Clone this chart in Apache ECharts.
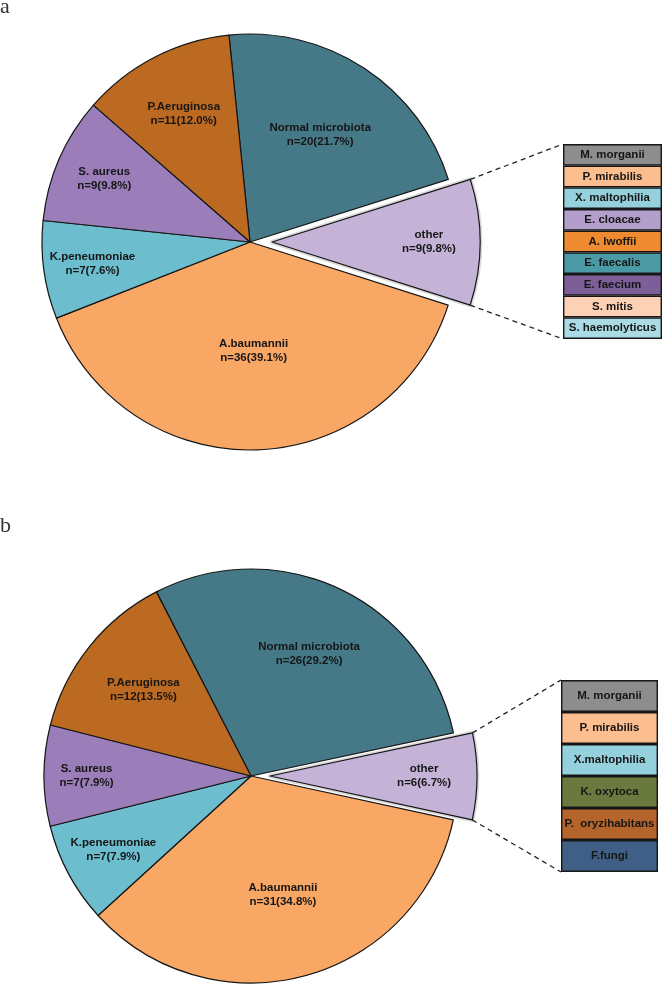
<!DOCTYPE html>
<html><head><meta charset="utf-8">
<script src="https://cdn.jsdelivr.net/npm/echarts@6/dist/echarts.min.js"></script>
<style>html,body{margin:0;padding:0;background:#fff}#c{width:670px;height:992px}</style>
</head><body><div id="c"></div>
<script>
// ---------- DATA ----------
const namesA = ['Normal microbiota', 'other', 'A.baumannii', 'K.peneumoniae', 'S. aureus', 'P.Aeruginosa'];
const valuesA = [20, 9, 36, 7, 9, 11];
const otherNamesA = ['M. morganii', 'P. mirabilis', 'X. maltophilia', 'E. cloacae', 'A. lwoffii', 'E. faecalis', 'E. faecium', 'S. mitis', 'S. haemolyticus'];

const namesB = ['Normal microbiota', 'other', 'A.baumannii', 'K.peneumoniae', 'S. aureus', 'P.Aeruginosa'];
const valuesB = [26, 6, 31, 7, 7, 12];
const otherNamesB = ['M. morganii', 'P. mirabilis', 'X.maltophilia', 'K. oxytoca', 'P.  oryzihabitans', 'F.fungi'];

const panelLabels = ['a', 'b'];

// ---------- STYLE ----------
const sliceColors = {
  'Normal microbiota': '#457987',
  'other': '#c5b3d7',
  'A.baumannii': '#f9a764',
  'K.peneumoniae': '#6cbdcd',
  'S. aureus': '#9a7db9',
  'P.Aeruginosa': '#bc6a22'
};
const otherColorsA = ['#8d8d8d', '#fcbd8f', '#95d1dd', '#b49ecb', '#ee8a30', '#4b9ba6', '#7c5f98', '#fdd1b5', '#aadbe4'];
const otherColorsB = ['#8d8d8d', '#fcbd8f', '#95d1dd', '#6a7a3e', '#b5652b', '#405f86'];
const labelRadA = [0.60, 0.74, 0.51, 0.75, 0.75, 0.68];
const labelRadB = [0.64, 0.73, 0.58, 0.74, 0.78, 0.65];

const panels = [
  { names: namesA, values: valuesA, others: otherNamesA, otherColors: otherColorsA, labelRad: labelRadA,
    center: [250, 242], r: 208, start: 95.8, offset: 22,
    leg: { left: 563, top: 144, width: 99, height: 195 }, tag: { x: 0, y: -4 } },
  { names: namesB, values: valuesB, others: otherNamesB, otherColors: otherColorsB, labelRad: labelRadB,
    center: [251, 776], r: 207, start: 117.2, offset: 19,
    leg: { left: 561, top: 680, width: 97, height: 192 }, tag: { x: 0, y: 515 } }
];

const FONT = 'Liberation Sans, Arial, Helvetica, sans-serif';
const BORDER = '#161616';
const HALO = '#dadada';

function geom(p) {
  const total = p.values.reduce((a, b) => a + b, 0);
  let cum = 0;
  return p.values.map(v => {
    const a1 = p.start - cum / total * 360;
    cum += v;
    const a2 = p.start - cum / total * 360;
    return { a1, a2, mid: (a1 + a2) / 2, pct: (v / total * 100).toFixed(1) };
  });
}
const rad = d => d * Math.PI / 180;

const series = [], grids = [], xAxes = [], yAxes = [], graphics = [];

panels.forEach((p, pi) => {
  const g = geom(p);
  const otherIdx = p.names.indexOf('other');
  const haloStyle = { color: 'rgba(0,0,0,0)', borderColor: HALO, borderWidth: 4.5 };
  const noStyle = { color: 'rgba(0,0,0,0)', borderWidth: 0 };
  // halo series under the exploded slice
  series.push({
    type: 'pie', center: p.center, radius: [0, p.r], startAngle: p.start, clockwise: true,
    selectedMode: 'single', selectedOffset: p.offset, silent: true, animation: false,
    label: { show: false }, labelLine: { show: false }, emphasis: { disabled: true },
    z: 1,
    data: p.names.map((n, i) => ({
      name: n, value: p.values[i], selected: i === otherIdx,
      itemStyle: i === otherIdx ? haloStyle : noStyle,
      select: { itemStyle: i === otherIdx ? haloStyle : noStyle }
    }))
  });
  // main pie
  series.push({
    type: 'pie', center: p.center, radius: [0, p.r], startAngle: p.start, clockwise: true,
    selectedMode: 'single', selectedOffset: p.offset, animation: false, avoidLabelOverlap: false,
    emphasis: { disabled: true }, z: 2,
    itemStyle: { borderColor: BORDER, borderWidth: 1.2 },
    label: {
      show: true, position: 'inside', color: '#161616', fontFamily: FONT, fontWeight: 'bold',
      fontSize: 11.5, lineHeight: 14, align: 'center',
      formatter: prm => prm.name + '\nn=' + prm.value + '(' + g[prm.dataIndex].pct + '%)'
    },
    labelLine: { show: false },
    labelLayout: prm => {
      const i = prm.dataIndex;
      const f = p.labelRad[i] - 0.5;
      const m = rad(g[i].mid);
      return { dx: f * p.r * Math.cos(m), dy: -f * p.r * Math.sin(m) };
    },
    data: p.names.map((n, i) => ({
      name: n, value: p.values[i], selected: i === otherIdx,
      itemStyle: { color: sliceColors[n] },
      select: { itemStyle: { color: sliceColors[n], borderColor: BORDER, borderWidth: 1.2 } }
    }))
  });

  // legend box stack as bar chart
  grids.push({ left: p.leg.left, top: p.leg.top, width: p.leg.width, height: p.leg.height, containLabel: false });
  xAxes.push({ type: 'value', gridIndex: pi, min: 0, max: 1, show: false });
  yAxes.push({ type: 'category', gridIndex: pi, data: p.others, inverse: true, show: false });
  series.push({
    type: 'bar', xAxisIndex: pi, yAxisIndex: pi, barWidth: '100%', animation: false, silent: true,
    itemStyle: { borderColor: BORDER, borderWidth: 1.4 },
    label: { show: true, position: 'inside', formatter: prm => prm.name, color: '#161616',
      fontFamily: FONT, fontWeight: 'bold', fontSize: 11.5 },
    data: p.others.map((n, i) => ({ value: 1, itemStyle: { color: p.otherColors[i] } }))
  });

  // dashed connectors from exploded slice corners to legend corners
  const go = g[otherIdx];
  const om = rad(go.mid);
  const ox = p.center[0] + p.offset * Math.cos(om), oy = p.center[1] - p.offset * Math.sin(om);
  const c1 = [ox + p.r * Math.cos(rad(go.a1)), oy - p.r * Math.sin(rad(go.a1))];
  const c2 = [ox + p.r * Math.cos(rad(go.a2)), oy - p.r * Math.sin(rad(go.a2))];
  [[c1, [p.leg.left, p.leg.top]], [c2, [p.leg.left, p.leg.top + p.leg.height]]].forEach(([s, e]) => {
    graphics.push({ type: 'line', silent: true, z: 10,
      shape: { x1: s[0], y1: s[1], x2: e[0], y2: e[1] },
      style: { stroke: '#222', lineWidth: 1.3, lineDash: [5, 4] } });
  });
  graphics.push({ type: 'text', x: p.tag.x, y: p.tag.y, silent: true,
    style: { text: panelLabels[pi], font: '22px "Liberation Serif", serif', fill: '#333', textVerticalAlign: 'top' } });
});

const chart = echarts.init(document.getElementById('c'), null, { renderer: 'canvas' });
chart.setOption({
  animation: false,
  backgroundColor: '#ffffff',
  grid: grids, xAxis: xAxes, yAxis: yAxes,
  series: series,
  graphic: graphics
});
</script></body></html>
